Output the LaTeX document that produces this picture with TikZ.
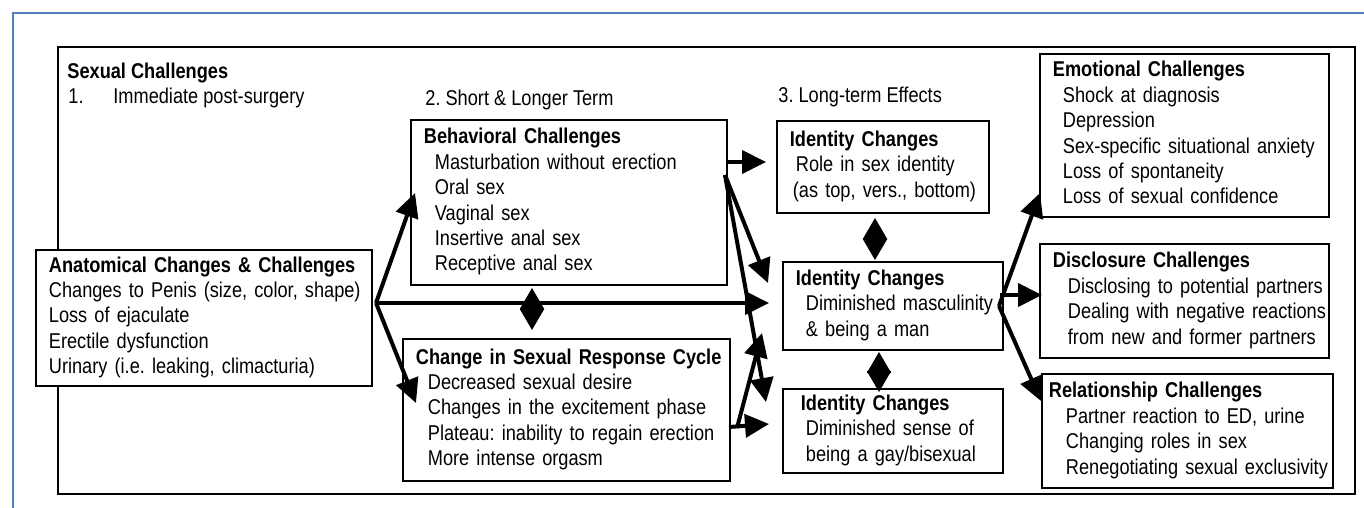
\documentclass[tikz,border=0pt]{standalone}
\usepackage{fontspec}
\setmainfont{Liberation Sans}[FakeStretch=0.85]
\usetikzlibrary{arrows.meta}
\definecolor{frameblue}{RGB}{79,129,189}
\frenchspacing

\begin{document}
\begin{tikzpicture}[x=0.5pt,y=-0.5pt,
        txt/.style={inner sep=0pt, anchor=base west, font=\fontsize{10.7pt}{12.7pt}\selectfont},
        box/.style={draw, fill=white, line width=0.9pt, anchor=north west, align=left, inner xsep=6.5pt, inner ysep=0pt, font=\fontsize{10.7pt}{12.7pt}\selectfont},
        arr/.style={line width=2pt, -{Triangle[length=12pt,width=11.5pt]}},
        dbl/.style={line width=1pt, {Triangle[length=10.5pt,width=12pt]}-{Triangle[length=10.5pt,width=12pt]}}]
        \useasboundingbox (0,0) rectangle (1364,508);

        \draw[frameblue, line width=1.3pt] (13,508) -- (13,13) -- (1364,13);
        \draw[line width=0.9pt] (58,47) rectangle (1355,494);

        \node[txt] (title) at (67,79) {\textbf{Sexual Challenges}};
        \node[txt] (stepone) at (68,104) {1.};
        \node[txt] (steponetxt) at (113,104) {Immediate post-surgery};
        \node[txt] (steptwo) at (425,105) {2. Short \& Longer Term};
        \node[txt] (stepthree) at (778,103) {3. Long-term Effects};

        \node[box, text width=155pt, minimum height=68pt] (anat) at (35,249) {\begin{tabular}{@{}l@{}}
            \textbf{Anatomical Changes \& Challenges}\\
            Changes to Penis (size, color, shape)\\
            Loss of ejaculate\\
            Erectile dysfunction\\
            Urinary (i.e. leaking, climacturia)\end{tabular}};
        \node[box, text width=145pt, minimum height=82.5pt] (behav) at (410,119) {\begin{tabular}{@{}l@{}}
            \textbf{Behavioral Challenges}\\
            \hspace*{5.5pt}Masturbation without erection\\
            \hspace*{5.5pt}Oral sex\\
            \hspace*{5.5pt}Vaginal sex\\
            \hspace*{5.5pt}Insertive anal sex\\
            \hspace*{5.5pt}Receptive anal sex\end{tabular}};
        \node[box, text width=150.5pt, minimum height=71pt] (resp) at (402,338) {\begin{tabular}{@{}l@{}}
            \textbf{Change in Sexual Response Cycle}\\
            \hspace*{6pt}Decreased sexual desire\\
            \hspace*{6pt}Changes in the excitement phase\\
            \hspace*{6pt}Plateau: inability to regain erection\\
            \hspace*{6pt}More intense orgasm\end{tabular}};

        \node[box, text width=93pt, minimum height=46pt] (idtop) at (776,120) {\begin{tabular}{@{}l@{}}
            \textbf{Identity Changes}\\
            \hspace*{3pt}Role in sex identity\\
            \hspace*{1.5pt}(as top, vers., bottom)\end{tabular}};
        \node[box, text width=97pt, minimum height=44pt] (idmid) at (782,261) {\begin{tabular}{@{}l@{}}
            \textbf{Identity Changes}\\
            \hspace*{5pt}Diminished masculinity\\
            \hspace*{5pt}\& being a man\end{tabular}};
        \node[box, text width=97pt, minimum height=42pt] (idbot) at (782,388) {\begin{tabular}{@{}l@{}}
            \hspace*{2.5pt}\textbf{Identity Changes}\\
            \hspace*{5pt}Diminished sense of\\
            \hspace*{5pt}being a gay/bisexual\end{tabular}};

        \node[box, text width=131.5pt, minimum height=81.5pt] (emo) at (1039,53) {\begin{tabular}{@{}l@{}}
            \textbf{Emotional Challenges}\\
            \hspace*{5pt}Shock at diagnosis\\
            \hspace*{5pt}Depression\\
            \hspace*{5pt}Sex-specific situational anxiety\\
            \hspace*{5pt}Loss of spontaneity\\
            \hspace*{5pt}Loss of sexual confidence\end{tabular}};
        \node[box, text width=131.5pt, minimum height=57pt] (disc) at (1039,243) {\begin{tabular}{@{}l@{}}
            \textbf{Disclosure Challenges}\\
            \hspace*{7.5pt}Disclosing to potential partners\\
            \hspace*{7.5pt}Dealing with negative reactions\\
            \hspace*{7.5pt}from new and former partners\end{tabular}};
        \node[box, text width=132.5pt, minimum height=57pt] (rel) at (1041,373) {\begin{tabular}{@{}l@{}}
            \hspace*{-3pt}\textbf{Relationship Challenges}\\
            \hspace*{5.5pt}Partner reaction to ED, urine\\
            \hspace*{5.5pt}Changing roles in sex\\
            \hspace*{5.5pt}Renegotiating sexual exclusivity\end{tabular}};

        \coordinate (anatout) at (376,303);
        \coordinate (behavout) at (727,162);
        \coordinate (behavfan) at (725,175);
        \coordinate (respout) at (729,427);
        \coordinate (respfan) at (737,428);
        \coordinate (midout) at (1000,295);
        \coordinate (midfan) at (999,306);

        \coordinate (tipbehav) at (415,193);
        \coordinate (tipresp) at (416,403);
        \coordinate (tipmida) at (769,303);
        \coordinate (tipmidb) at (768,283);
        \coordinate (tipmidc) at (762,333);
        \coordinate (tiptop) at (766,162);
        \coordinate (tipbota) at (766,402);
        \coordinate (tipbotb) at (769,424);
        \coordinate (tipemo) at (1040,193);
        \coordinate (tipdisc) at (1042,295);
        \coordinate (tiprel) at (1041,401);

        \draw[arr] (anatout) -- (tipbehav);
        \draw[arr] (anatout) -- (tipmida);
        \draw[arr] (anatout) -- (tipresp);
        \draw[arr] (behavout) -- (tiptop);
        \draw[arr] (behavfan) -- (tipmidb);
        \draw[arr] (behavfan) -- (tipbota);
        \draw[arr] (respfan) -- (tipmidc);
        \draw[arr] (respout) -- (tipbotb);
        \draw[arr] (midfan) -- (tipemo);
        \draw[arr] (midout) -- (tipdisc);
        \draw[arr] (midfan) -- (tiprel);

        \coordinate (dia) at (532,288);
        \coordinate (dib) at (532,330);
        \coordinate (dic) at (875,218);
        \coordinate (did) at (875,260);
        \coordinate (die) at (879,352);
        \coordinate (dif) at (879,392);
        \draw[dbl] (dia) -- (dib);
        \draw[dbl] (dic) -- (did);
        \draw[dbl] (die) -- (dif);
\end{tikzpicture}
\end{document}
